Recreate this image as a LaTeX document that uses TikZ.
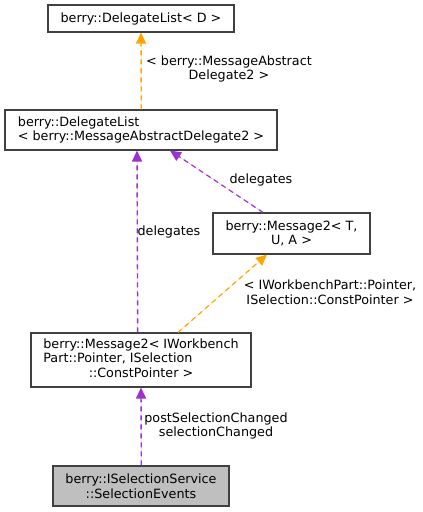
\documentclass[tikz,border=0pt]{standalone}
\usepackage{fontspec}
\setmainfont{DejaVu Sans}
\usetikzlibrary{arrows.meta}
\definecolor{edgeor}{HTML}{FFA500}
\definecolor{edgepu}{HTML}{9A32CD}
\definecolor{boxline}{HTML}{404040}
\definecolor{boxgray}{HTML}{BFBFBF}
\begin{document}
\begin{tikzpicture}[x=1pt,y=-1pt,
  every node/.style={font=\fontsize{12.75}{14.5}\selectfont, inner sep=0pt},
  cls/.style={draw=boxline, line width=1.1pt, fill=white, rectangle},
  rel/.style={dash pattern=on 5pt off 4pt, line width=1.2pt, -{Triangle[length=11pt,width=10pt]}},
  vrel/.style={line width=1.4pt},
  relor/.style={rel, draw=edgeor, fill=edgeor},
  relpu/.style={rel, draw=edgepu, fill=edgepu},
  lbl/.style={align=center, text=black}]
\useasboundingbox (0,0) rectangle (423,512);
\node[cls, minimum width=186pt, minimum height=27pt] (b1) at (141,18.5) {berry::DelegateList< D >};
\node[cls, minimum width=272pt, minimum height=40pt, align=left] (b2) at (141,130) {berry::DelegateList\\< berry::MessageAbstractDelegate2 >};
\node[cls, minimum width=157pt, minimum height=41pt, align=center] (b3) at (291.5,233.5) {berry::Message2< T,\\U, A >};
\node[cls, minimum width=220pt, minimum height=54pt] (b4) at (141,360) {\renewcommand{\arraystretch}{1}\begin{tabular}{@{}l@{}}berry::Message2< IWorkbench\\Part::Pointer, ISelection\\\multicolumn{1}{@{}c@{}}{::ConstPointer >}\end{tabular}};
\node[cls, fill=boxgray, minimum width=176pt, minimum height=40pt, align=center] (b5) at (141,486) {berry::ISelectionService\\::SelectionEvents};

\draw[relor, vrel] ([xshift=0.3pt]b2.north) -- ([xshift=0pt]b1.south);
\draw[relpu, vrel] ([xshift=-3.3pt]b4.north) -- ([xshift=-4pt]b2.south);
\draw[relpu] ([xshift=-28.5pt]b3.north) -- ([xshift=29pt]b2.south);
\draw[relor] ([xshift=37pt]b4.north) -- ([xshift=-24.5pt]b3.south);
\draw[relpu, vrel] ([xshift=0.3pt]b5.north) -- ([xshift=0pt]b4.south);

\node[lbl] (l1) at (229,69) {< berry::MessageAbstract\\Delegate2 >};
\node[lbl] (l2) at (169,232) {delegates};
\node[lbl] (l3) at (261,180) {delegates};
\node[lbl] (l4) at (330,292) {< IWorkbenchPart::Pointer,\\ISelection::ConstPointer >};
\node[lbl] (l5) at (216,426) {postSelectionChanged\\selectionChanged};
\end{tikzpicture}
\end{document}
